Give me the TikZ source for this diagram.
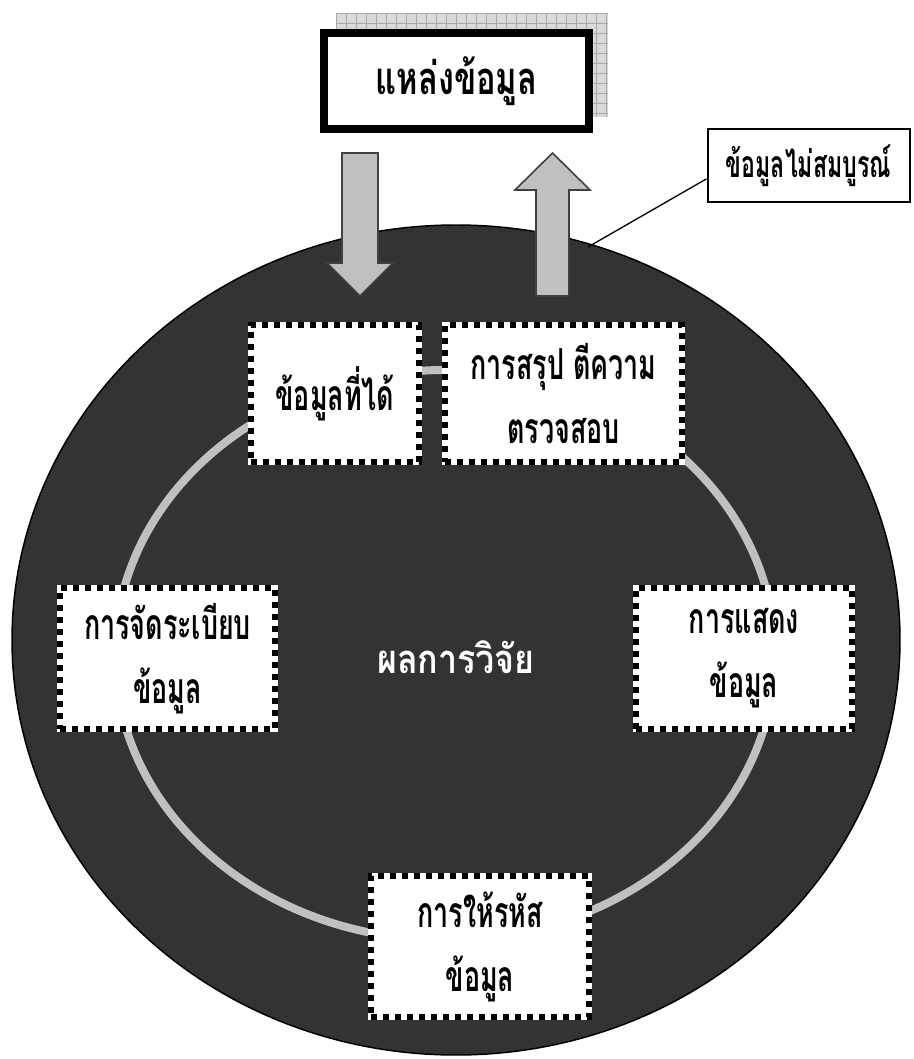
\documentclass[tikz,border=0pt]{standalone}
\usepackage{fontspec}
\newfontfamily\boxfont[Script=Thai,FakeStretch=0.63]{Loma}
\newfontfamily\srcfont[Script=Thai,FakeStretch=0.72]{Loma}
\newfontfamily\notefont[Script=Thai,FakeStretch=0.62]{Loma}
\newfontfamily\midfont[Script=Thai,FakeStretch=0.85]{Loma}
\definecolor{disc}{HTML}{333333}
\definecolor{ringgray}{HTML}{C0C0C0}
\definecolor{arrowedge}{HTML}{404040}
\definecolor{shadowfill}{HTML}{DADADA}
\definecolor{shadowline}{HTML}{A8A8A8}
\begin{document}
\begin{tikzpicture}[x=0.75pt,y=-0.75pt,
  dotbox/.style={draw=black, fill=white, line width=4.6pt, dash pattern=on 4.6pt off 4.4pt,
    preaction={draw=white, solid, line width=4.6pt},
    align=center, inner sep=0pt, font=\boxfont\bfseries\fontsize{32}{48}\selectfont},
  ringline/.style={draw=ringgray, line width=6pt},
  blockarrow/.style={fill=ringgray, draw=arrowedge, line width=1.2pt, line join=miter},
  gridline/.style={draw=shadowline, line width=0.4pt}
]
\useasboundingbox (0,0) rectangle (913,1059);

% shadow of source box
\fill[shadowfill] (336,13) rectangle (608,117);
\foreach \gx in {336,346,...,606} \draw[gridline] (\gx,13) -- (\gx,117);
\foreach \gy in {13,23,...,113} \draw[gridline] (336,\gy) -- (608,\gy);

% source box
\node[draw=black, fill=white, line width=6pt, minimum width=198.75pt, minimum height=72pt,
  inner sep=0pt, font=\srcfont\bfseries\fontsize{34}{36}\selectfont]
  (source) at (456.5,81) {แหล่งข้อมูล};

% big disc
\draw[fill=disc, draw=black, line width=1.1pt] (456,640) ellipse [x radius=444, y radius=415];

% inner ring
\draw[ringline] (445,655) ellipse [x radius=330, y radius=285];

% block arrows
\draw[blockarrow] (342,153) -- (378,153) -- (378,263) -- (393,263) -- (360,296)
   -- (327,263) -- (342,263) -- cycle;
\draw[blockarrow] (536,296) -- (569,296) -- (569,190) -- (590,190) -- (552.5,153)
   -- (515,190) -- (536,190) -- cycle;

% boxes
\node[dotbox, minimum width=126pt, minimum height=102.75pt] (got) at (335,393.5) {ข้อมูลที่ได้};
\node[dotbox, minimum width=177.75pt, minimum height=102.75pt] (conclude) at (563.5,393.5) {การสรุป ตีความ\\ตรวจสอบ};
\node[dotbox, minimum width=161.25pt, minimum height=105.75pt] (organize) at (167.5,658.5) {การจัดระเบียบ\\ข้อมูล};
\node[dotbox, minimum width=162pt, minimum height=105.75pt] (display) at (744,658.5) {การแสดง\\ข้อมูล};
\node[dotbox, minimum width=163.5pt, minimum height=105.75pt] (coding) at (480,946.5) {การให้รหัส\\ข้อมูล};

% centre text
\node[text=white, font=\midfont\bfseries\fontsize{30}{34}\selectfont] (result) at (456,657) {ผลการวิจัย};

% callout
\node[draw=black, fill=white, line width=1.5pt, minimum width=151.5pt, minimum height=54.75pt,
  inner sep=0pt, font=\notefont\bfseries\fontsize{28}{30}\selectfont]
  (incomplete) at (808.5,165.5) {ข้อมูลไม่สมบูรณ์};
\coordinate (touch) at (588,247);
\draw[black, line width=1pt] ([yshift=-10pt]incomplete.west) -- (touch);
\end{tikzpicture}
\end{document}
